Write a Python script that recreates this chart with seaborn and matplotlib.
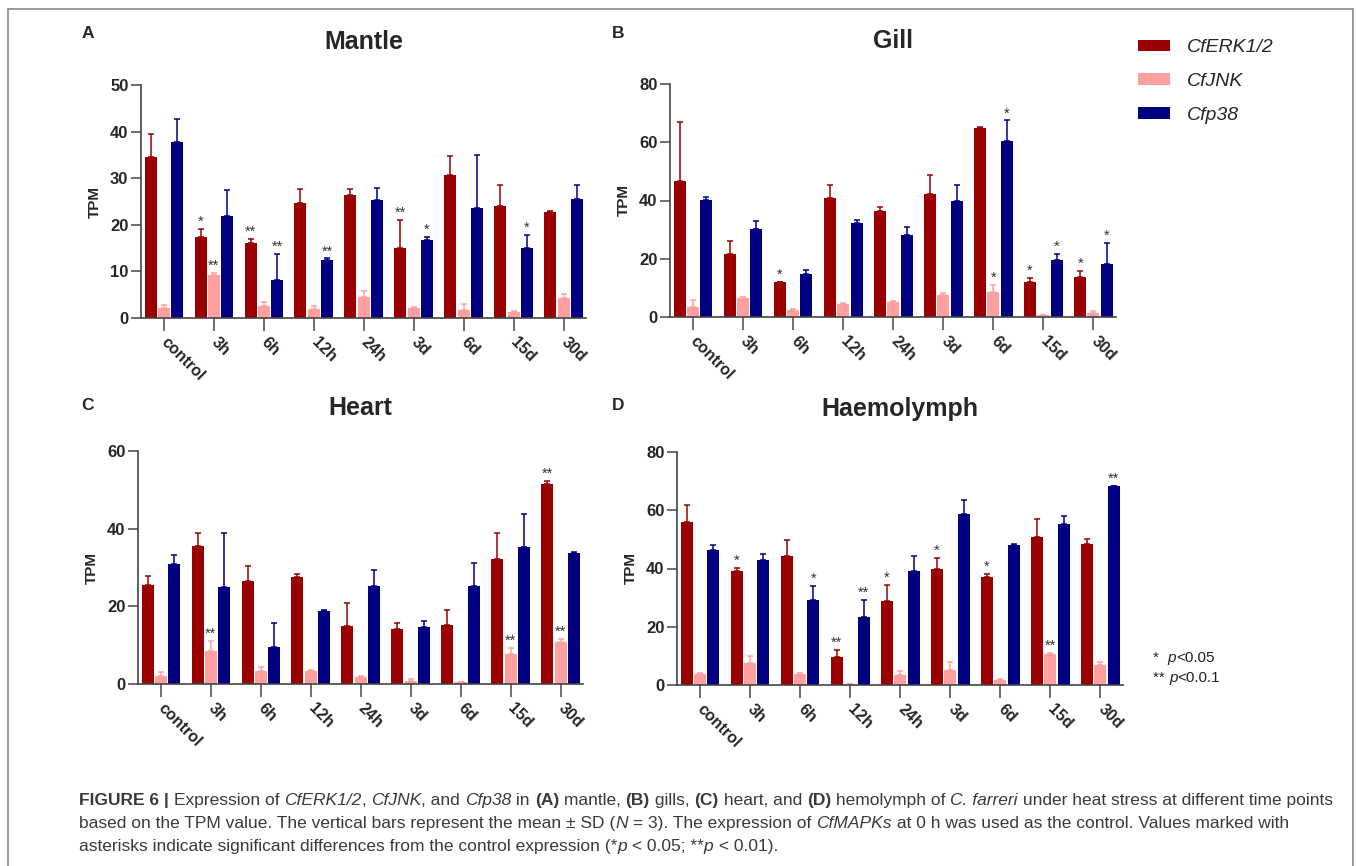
import numpy as np
import pandas as pd
import seaborn as sns
import matplotlib.pyplot as plt
from matplotlib.lines import Line2D

TIMES = ["control", "3h", "6h", "12h", "24h", "3d", "6d", "15d", "30d"]
GENES = ["CfERK1/2", "CfJNK", "Cfp38"]
COLORS = ["#9b0000", "#ffa0a0", "#000080"]

# mantle
mantle_erk = [34.6, 17.4, 16.1, 24.7, 26.4, 15.0, 30.6, 24.1, 22.7]
mantle_erk_sd = [4.9, 1.7, 0.9, 3.0, 1.2, 6.1, 4.2, 4.4, 0.2]
mantle_jnk = [2.1, 9.3, 2.6, 2.0, 4.5, 2.2, 1.8, 1.2, 4.2]
mantle_jnk_sd = [0.7, 0.4, 0.8, 0.5, 1.2, 0.2, 1.1, 0.4, 0.9]
mantle_p38 = [37.8, 21.9, 8.1, 12.4, 25.3, 16.8, 23.5, 15.0, 25.6]
mantle_p38_sd = [4.8, 5.5, 5.6, 0.4, 2.7, 0.6, 11.4, 2.9, 2.9]
mantle_erk_sig = ["", "*", "**", "", "", "**", "", "", ""]
mantle_jnk_sig = ["", "**", "", "", "", "", "", "", ""]
mantle_p38_sig = ["", "", "**", "**", "", "*", "", "*", ""]

# gill
gill_erk = [46.8, 21.5, 11.9, 40.7, 36.4, 42.2, 64.9, 11.9, 13.6]
gill_erk_sd = [20.2, 4.6, 0.2, 4.6, 1.2, 6.5, 0.2, 1.6, 2.1]
gill_jnk = [3.3, 6.6, 2.4, 4.3, 5.1, 7.6, 8.7, 0.7, 1.4]
gill_jnk_sd = [2.4, 0.4, 0.2, 0.4, 0.3, 0.8, 2.2, 0.1, 0.7]
gill_p38 = [40.2, 30.3, 14.9, 32.2, 28.3, 39.8, 60.4, 19.6, 18.2]
gill_p38_sd = [1.1, 2.7, 1.1, 1.2, 2.7, 5.4, 7.1, 2.1, 7.3]
gill_erk_sig = ["", "", "*", "", "", "", "", "*", "*"]
gill_jnk_sig = ["", "", "", "", "", "", "*", "", ""]
gill_p38_sig = ["", "", "", "", "", "", "*", "*", "*"]

# heart
heart_erk = [25.5, 35.6, 26.6, 27.6, 15.0, 14.1, 15.3, 32.1, 51.4]
heart_erk_sd = [2.3, 3.4, 3.7, 0.6, 5.9, 1.7, 3.8, 6.9, 1.0]
heart_jnk = [2.1, 8.6, 3.3, 3.3, 1.7, 0.9, 0.4, 7.8, 10.7]
heart_jnk_sd = [1.0, 2.5, 1.0, 0.2, 0.4, 0.4, 0.1, 1.5, 1.0]
heart_p38 = [30.8, 25.1, 9.5, 18.7, 25.2, 14.6, 25.2, 35.3, 33.8]
heart_p38_sd = [2.5, 13.8, 6.2, 0.3, 4.1, 1.7, 5.9, 8.6, 0.2]
heart_erk_sig = ["", "", "", "", "", "", "", "", "**"]
heart_jnk_sig = ["", "**", "", "", "", "", "", "**", "**"]
heart_p38_sig = ["", "", "", "", "", "", "", "", ""]

# haemolymph
haemo_erk = [56.1, 39.0, 44.4, 9.5, 28.8, 39.7, 37.1, 50.7, 48.3]
haemo_erk_sd = [5.7, 1.3, 5.5, 2.5, 5.6, 3.9, 1.0, 6.2, 1.8]
haemo_jnk = [3.8, 7.4, 3.9, 0.2, 3.5, 5.0, 1.7, 10.6, 6.8]
haemo_jnk_sd = [0.4, 2.4, 0.2, 0.0, 1.2, 2.9, 0.4, 0.3, 1.0]
haemo_p38 = [46.3, 43.0, 29.2, 23.2, 39.0, 58.8, 48.1, 55.3, 68.2]
haemo_p38_sd = [1.9, 2.0, 4.8, 6.0, 5.3, 4.7, 0.2, 2.6, 0.2]
haemo_erk_sig = ["", "*", "", "**", "*", "*", "*", "", ""]
haemo_jnk_sig = ["", "", "", "", "", "", "", "**", ""]
haemo_p38_sig = ["", "", "*", "**", "", "", "", "", "**"]

W, H = 1357, 866

sns.set_style("ticks")
plt.rcParams["font.family"] = ["Liberation Sans", "DejaVu Sans"]


def px_rect(left, top, right, bottom):
    return [left / W, 1 - bottom / H, (right - left) / W, (bottom - top) / H]


def plot_panel(ax, means, sds, sigs, ymax, ystep, title):
    df = pd.DataFrame({
        "time": np.tile(TIMES, 3),
        "gene": np.repeat(GENES, len(TIMES)),
        "tpm": np.concatenate(means),
    })
    sns.barplot(data=df, x="time", y="tpm", hue="gene", order=TIMES,
                hue_order=GENES, palette=COLORS, saturation=1, width=0.8,
                gap=0.1, errorbar=None, linewidth=0, legend=False, ax=ax)

    # upper error bars and significance marks
    for cont, sd, sig, color in zip(ax.containers, sds, sigs, COLORS):
        for bar, s, mark in zip(cont, sd, sig):
            x = bar.get_x() + bar.get_width() / 2
            h = bar.get_height()
            ax.errorbar(x, h, yerr=[[0], [s]], fmt="none", ecolor=color,
                        elinewidth=1.1, capsize=2.2, capthick=1.1)
            if mark:
                ax.annotate(mark, (x, h + s), xytext=(0, 0),
                            textcoords="offset points", ha="center",
                            va="bottom", fontsize=10.5, color="#333333")

    ax.set_xlim(-0.46, 8.45)
    ax.set_ylim(0, ymax)
    ax.set_yticks(np.arange(0, ymax + 1, ystep))
    ax.set_xlabel("")
    ax.set_ylabel("TPM", fontsize=11, fontweight="bold", labelpad=6)
    ax.set_title(title, fontsize=18, fontweight="bold", pad=26)
    sns.despine(ax=ax)
    for side in ["left", "bottom"]:
        ax.spines[side].set_color("#444444")
        ax.spines[side].set_linewidth(1.2)
    ax.tick_params(axis="y", length=7, width=1.2, color="#555555",
                   labelsize=12, pad=2)
    ax.tick_params(axis="x", length=9, width=1.2, color="#555555",
                   labelsize=11.5, pad=7)
    for lab in ax.get_yticklabels():
        lab.set_fontweight("bold")
    for lab in ax.get_xticklabels():
        lab.set_fontweight("bold")
        lab.set_rotation(-45)
        lab.set_ha("left")
        lab.set_va("center")
        lab.set_rotation_mode("anchor")


fig = plt.figure(figsize=(W / 100, H / 100), dpi=100)

panels = [
    (px_rect(141, 85, 586, 318), "Mantle", 50, 10,
     [mantle_erk, mantle_jnk, mantle_p38],
     [mantle_erk_sd, mantle_jnk_sd, mantle_p38_sd],
     [mantle_erk_sig, mantle_jnk_sig, mantle_p38_sig]),
    (px_rect(670, 84, 1116, 317), "Gill", 80, 20,
     [gill_erk, gill_jnk, gill_p38],
     [gill_erk_sd, gill_jnk_sd, gill_p38_sd],
     [gill_erk_sig, gill_jnk_sig, gill_p38_sig]),
    (px_rect(138, 451, 583, 684), "Heart", 60, 20,
     [heart_erk, heart_jnk, heart_p38],
     [heart_erk_sd, heart_jnk_sd, heart_p38_sd],
     [heart_erk_sig, heart_jnk_sig, heart_p38_sig]),
    (px_rect(677, 452, 1123, 685), "Haemolymph", 80, 20,
     [haemo_erk, haemo_jnk, haemo_p38],
     [haemo_erk_sd, haemo_jnk_sd, haemo_p38_sd],
     [haemo_erk_sig, haemo_jnk_sig, haemo_p38_sig]),
]

axes = []
for rect, title, ymax, ystep, means, sds, sigs in panels:
    ax = fig.add_axes(rect)
    plot_panel(ax, means, sds, sigs, ymax, ystep, title)
    axes.append(ax)

for letter, (x, y) in zip("ABCD", [(88, 34), (618, 34), (88, 405), (618, 405)]):
    fig.text(x / W, 1 - y / H, letter, fontsize=12.5, fontweight="bold",
             ha="center", va="center")

# legend
fig.legend(handles=list(axes[0].containers), labels=GENES,
           loc="upper left", bbox_to_anchor=(1120 / W, 1 - 22 / H),
           frameon=False, prop={"style": "italic", "size": 14},
           handlelength=1.65, handleheight=0.55, handletextpad=0.9,
           labelspacing=0.85)

renderer = fig.canvas.get_renderer()


def advance(text, **kw):
    # width including trailing spaces
    t1 = fig.text(0, 0, text + "x", **kw)
    t2 = fig.text(0, 0, "x", **kw)
    w = (t1.get_window_extent(renderer).width
         - t2.get_window_extent(renderer).width)
    t1.remove()
    t2.remove()
    return w


def draw_runs(x, y, runs, **kw):
    for text, style in runs:
        opts = dict(kw)
        if "b" in style:
            opts["fontweight"] = "bold"
        if "i" in style:
            opts["fontstyle"] = "italic"
        fig.text(x / W, 1 - y / H, text, va="baseline", ha="left", **opts)
        x += advance(text, **opts)


# p-value notes
draw_runs(1153, 662, [("*  ", ""), ("p", "i"), ("<0.05", "")],
          fontsize=11, color="#222222")
draw_runs(1153, 682, [("** ", ""), ("p", "i"), ("<0.0.1", "")],
          fontsize=11, color="#222222")

# caption
cap_kw = dict(fontsize=12.5, color="#3a3a3a",
              family=["Liberation Sans Narrow", "Liberation Sans"])
lines = [
    [("FIGURE 6 | ", "b"), ("Expression of ", ""), ("CfERK1/2", "i"),
     (", ", ""), ("CfJNK", "i"), (", and ", ""), ("Cfp38", "i"),
     (" in ", ""), ("(A)", "b"), (" mantle, ", ""), ("(B)", "b"),
     (" gills, ", ""), ("(C)", "b"), (" heart, and ", ""), ("(D)", "b"),
     (" hemolymph of ", ""), ("C. farreri", "i"),
     (" under heat stress at different time points", "")],
    [("based on the TPM value. The vertical bars represent the mean \u00b1 SD (", ""),
     ("N", "i"), (" = 3). The expression of ", ""), ("CfMAPKs", "i"),
     (" at 0 h was used as the control. Values marked with", "")],
    [("asterisks indicate significant differences from the control expression (*", ""),
     ("p", "i"), (" < 0.05; **", ""), ("p", "i"), (" < 0.01).", "")],
]
for i, runs in enumerate(lines):
    draw_runs(79, 805 + i * 23, runs, **cap_kw)

# outer frame
for xs, ys in [([8, 8], [866, 9]), ([8, 1353], [9, 9]), ([1353, 1353], [9, 866])]:
    fig.add_artist(Line2D([x / W for x in xs], [1 - y / H for y in ys],
                          color="#8a8a8a", linewidth=1.2))

fig.savefig("out.png", dpi=100)
